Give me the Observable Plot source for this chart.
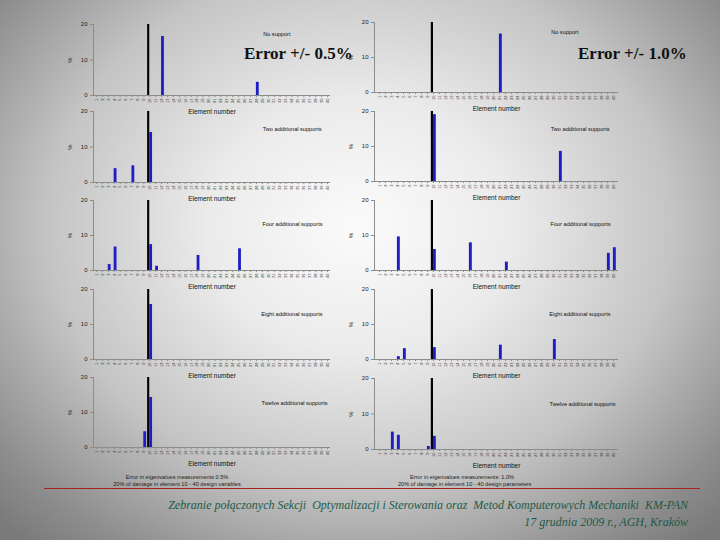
<!DOCTYPE html>
<html>
<head>
<meta charset="utf-8">
<script src="https://cdn.jsdelivr.net/npm/d3@7"></script>
<script src="https://cdn.jsdelivr.net/npm/@observablehq/plot@0.6"></script>
<style>
  html, body { margin: 0; padding: 0; }
  #slide {
    position: relative; width: 720px; height: 540px; overflow: hidden;
    background: radial-gradient(ellipse 70% 78% at 50% 42%, #fbfbfb 0%, #ebebeb 30%, #c4c4c4 62%, #8e8e8e 88%, #7a7a7a 100%);
    font-family: "Liberation Sans", Arial, sans-serif;
  }
  .panel { position: absolute; }
  .panel svg { overflow: visible; }
  .note { position: absolute; font-size: 5.6px; color: #222; text-align: center; white-space: nowrap; line-height: 7px; }
  .big { position: absolute; font-family: "Liberation Serif", "Times New Roman", serif; font-size: 17px; font-weight: bold; color: #111; white-space: nowrap; }
  .foot { position: absolute; right: 32px; font-family: "Liberation Serif", "DejaVu Serif", serif; font-style: italic; font-size: 12px; color: #1d5a48; white-space: nowrap; text-align: right; }
  #redline { position: absolute; left: 44px; width: 656px; top: 488px; height: 1px; background: #a82020; }
</style>
</head>
<body>
<div id="slide"></div>
<script>
// ---- data ----
const elements = d3.range(1, 41);          // element numbers (x tick labels)
const yTicks = [0, 10, 20];                 // % tick values
const actualDamage = [{element: 10, value: 20}];   // true damage (black bar)
const panelTitles = ["No support", "Two additional supports", "Four additional supports",
                     "Eight additional supports", "Twelve additional supports"];
// identified damage [element, %], eigenvalue error 0.5%
const noSupport05      = [[12, 16.6], [28, 3.7]];
const twoSupports05    = [[4, 3.9], [7, 4.7], [10, 14.1]];
const fourSupports05   = [[3, 1.7], [4, 6.7], [10, 7.4], [11, 1.2], [18, 4.3], [25, 6.2]];
const eightSupports05  = [[10, 15.7]];
const twelveSupports05 = [[9, 4.5], [10, 14.3]];
// identified damage [element, %], eigenvalue error 1.0%
const noSupport10      = [[21, 16.7]];
const twoSupports10    = [[10, 19.1], [31, 8.6]];
const fourSupports10   = [[4, 9.6], [10, 6.0], [16, 7.9], [22, 2.4], [39, 4.9], [40, 6.5]];
const eightSupports10  = [[4, 0.8], [5, 3.1], [10, 3.4], [21, 4.1], [30, 5.7]];
const twelveSupports10 = [[3, 4.9], [4, 4.0], [9, 0.85], [10, 3.7]];

const series05 = [noSupport05, twoSupports05, fourSupports05, eightSupports05, twelveSupports05];
const series10 = [noSupport10, twoSupports10, fourSupports10, eightSupports10, twelveSupports10];

// ---- layout (plot-area frames in slide pixels) ----
const colX = [[93, 330], [374, 618]];
const rowY = [
  [[24, 95], [111, 182], [200, 270], [289, 359], [377, 447]],
  [[22, 92], [111, 181], [200, 270], [289, 359], [378, 449]]
];
const titleDy = [10, 18, 24, 25, 26];
const titleDx = [-40, -9, -8, -8, -3];

const slide = document.getElementById("slide");

function panel(data, title, col, row) {
  const [x0, x1] = colX[col];
  const [yt, yb] = rowY[col][row];
  const mL = 34, mR = 12, mT = 4, mB = 26;
  const chart = Plot.plot({
    width: (x1 - x0) + mL + mR,
    height: (yb - yt) + mT + mB,
    marginLeft: mL, marginRight: mR, marginTop: mT, marginBottom: mB,
    style: {background: "transparent", fontFamily: "Liberation Sans, Arial, sans-serif", overflow: "visible"},
    x: {type: "band", domain: elements, padding: 0},
    y: {domain: [0, 20]},
    marks: [
      Plot.frame({anchor: "left", stroke: "#8c8c8c"}),
      Plot.ruleY([0], {stroke: "#8c8c8c"}),
      Plot.axisY({ticks: yTicks, tickSize: 3, tickPadding: 3, fontSize: 6, stroke: "#8c8c8c", color: "#222",
                  label: "%", labelAnchor: "center", labelArrow: "none", labelOffset: 26}),
      Plot.axisX({tickSize: 2, tickPadding: 1, tickRotate: -90, fontSize: 4, stroke: "#8c8c8c", color: "#333", label: null}),
      Plot.barY(actualDamage, {x: "element", y: "value", fill: "#000", insetLeft: 0.8, insetRight: 3}),
      Plot.barY(data, {x: d => d[0], y: d => d[1], fill: "#1e1ec6", insetLeft: 2.9, insetRight: 0.2}),
      Plot.text([title], {frameAnchor: "top-right", textAnchor: "end", lineAnchor: "middle",
                          dx: titleDx[row], dy: titleDy[row], fontSize: 5.6, fill: "#111"}),
      Plot.text(["Element number"], {frameAnchor: "bottom", lineAnchor: "middle", dy: 16, fontSize: 6.5, fill: "#111"})
    ]
  });
  const div = document.createElement("div");
  div.className = "panel";
  div.style.left = (x0 - mL) + "px";
  div.style.top = (yt - mT) + "px";
  div.appendChild(chart);
  slide.appendChild(div);
}

series05.forEach((s, i) => panel(s, panelTitles[i], 0, i));
series10.forEach((s, i) => panel(s, panelTitles[i], 1, i));

function addDiv(cls, html, css) {
  const d = document.createElement("div");
  d.className = cls;
  d.innerHTML = html;
  Object.assign(d.style, css);
  slide.appendChild(d);
  return d;
}

addDiv("note", "Error in eigenvalues measurements 0.5%<br>20% of damage in element 10 - 40 design variables",
       {left: "112px", top: "474px", width: "130px"});
addDiv("note", "Error in eigenvalues measurements: 1.0%<br>20% of damage in element 10 - 40 design parameters",
       {left: "398px", top: "474px", width: "128px"});
addDiv("big", "Error +/- 0.5%", {left: "244px", top: "44px"});
addDiv("big", "Error +/- 1.0%", {left: "578px", top: "44px"});
const rl = document.createElement("div"); rl.id = "redline"; slide.appendChild(rl);
addDiv("foot", "Zebranie połączonych Sekcji&nbsp; Optymalizacji i Sterowania oraz&nbsp; Metod Komputerowych Mechaniki&nbsp; KM-PAN", {top: "498px"});
addDiv("foot", "17 grudnia 2009 r., AGH, Kraków", {top: "515px"});
</script>
</body>
</html>
